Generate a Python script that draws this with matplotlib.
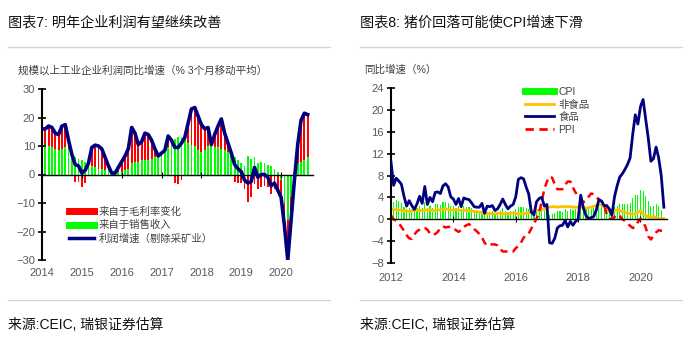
import numpy as np
import matplotlib
matplotlib.use('Agg')
import matplotlib.pyplot as plt
from matplotlib.lines import Line2D

plt.rcParams['font.family'] = ['Liberation Sans', 'Noto Sans CJK SC']

# ---- chart 7: industrial profit growth, 3m moving avg, Jan 2014 - Sep 2020
profit = [16, 16, 17, 16.5, 14.5, 14, 17, 17.5, 12, 7, 3.5, 3,
          0.5, 1.5, 4, 9.5, 10.3, 10, 9, 6, 3, 0.5, 0.5, 2.5,
          4.5, 6.5, 9, 16.5, 14.5, 10.5, 11.5, 14.5, 14, 12, 9, 6.5,
          7.5, 8.5, 13.5, 12, 9.5, 9.5, 11, 13, 18, 23, 23.5, 20.5,
          17.5, 16, 16.5, 10.5, 14, 17, 19.5, 14.5, 11, 7.5, 3.5, 2,
          1, -2, -3, -2.5, 2.5, -1, 0, 0, -1, -4, -3, -5.5,
          -8, -18, -30, -16, -2, 10.5, 19, 21.5, 21]
sales = [11, 10.5, 10, 9.5, 9, 8.5, 9, 9.5, 9, 6.5, 6, 5.5,
         5, 4.5, 3.5, 3, 2.5, 2, 2, 1.5, 1.5, 1, 1, 1,
         1, 1.5, 2, 4, 4.5, 4.5, 5, 5, 5, 5.5, 6, 6,
         6.5, 8, 9.5, 11, 12.5, 13, 13, 12.5, 11, 10.5, 10, 8.5,
         8, 8.5, 10, 10, 9.5, 9.5, 9, 8.5, 8, 7, 6, 5,
         4, 3, 6.5, 5.5, 6, 4, 4.5, 4, 3.5, 3, 2, 1,
         -2, -10, -16, -8, 1, 4, 4.5, 5, 6]
margin = [5, 5.5, 7, 7, 5.5, 5.5, 8, 8, 3, 0.5, -2.5, -2.5,
          -4.5, -3, 0.5, 6.5, 7.8, 8, 7, 4.5, 1.5, -0.5, -0.5, 1.5,
          3.5, 5, 7, 12.5, 10, 6, 6.5, 9.5, 9, 6.5, 3, 0.5,
          1, 0.5, 4, 1, -3, -3.5, -2, 0.5, 7, 12.5, 13.5, 12,
          9.5, 7.5, 6.5, 0.5, 4.5, 7.5, 10.5, 6, 3, 0.5, -2.5, -3,
          -3, -5, -9.5, -8, -3.5, -5, -4.5, -4, -4.5, -7, -5, -6.5,
          -6, -8, -14, -8, -3, 6.5, 14.5, 16.5, 15]
years7 = [2014, 2015, 2016, 2017, 2018, 2019, 2020]

# ---- chart 8: CPI / non-food / food / PPI yoy, Jan 2012 - Oct 2020
cpi = [4.5, 3.2, 3.6, 3.4, 3.0, 2.2, 1.8, 2.0, 1.9, 1.7, 2.0, 2.5,
       2.0, 3.2, 2.1, 2.4, 2.1, 2.7, 2.7, 2.6, 3.1, 3.2, 3.0, 2.5,
       2.5, 2.0, 2.4, 1.8, 2.5, 2.3, 2.3, 2.0, 1.6, 1.6, 1.4, 1.5,
       0.8, 1.4, 1.4, 1.5, 1.2, 1.4, 1.6, 2.0, 1.6, 1.3, 1.5, 1.6,
       1.8, 2.3, 2.3, 2.3, 2.0, 1.9, 1.8, 1.3, 1.9, 2.1, 2.3, 2.1,
       2.5, 0.8, 0.9, 1.2, 1.5, 1.5, 1.4, 1.8, 1.6, 1.9, 1.7, 1.8,
       1.5, 2.9, 2.1, 1.8, 1.8, 1.9, 2.1, 2.3, 2.5, 2.5, 2.2, 1.9,
       1.7, 1.5, 2.3, 2.5, 2.7, 2.7, 2.8, 2.8, 3.0, 3.8, 4.5, 4.5,
       5.4, 5.2, 4.3, 3.3, 2.4, 2.5, 2.7, 2.4, 1.7, 0.5]
nonfood = [1.8, 1.8, 1.7, 1.7, 1.7, 1.5, 1.5, 1.4, 1.5, 1.6, 1.6, 1.6,
           1.6, 1.7, 1.7, 1.7, 1.6, 1.6, 1.7, 1.7, 1.8, 1.9, 1.8, 1.7,
           1.7, 1.8, 1.7, 1.6, 1.7, 1.6, 1.6, 1.6, 1.4, 1.4, 1.3, 1.2,
           1.0, 1.0, 1.0, 1.0, 1.0, 1.1, 1.1, 1.0, 1.0, 1.0, 1.1, 1.1,
           1.1, 0.9, 1.0, 1.0, 1.1, 1.1, 1.3, 1.4, 1.6, 1.6, 1.8, 1.8,
           2.2, 2.2, 2.3, 2.3, 2.2, 2.3, 2.3, 2.3, 2.3, 2.3, 2.2, 2.2,
           2.2, 2.2, 2.2, 2.0, 2.1, 2.2, 2.4, 2.5, 2.6, 2.6, 2.3, 1.9,
           1.4, 1.2, 1.6, 1.7, 1.6, 1.4, 1.3, 1.1, 1.0, 0.9, 1.0, 1.3,
           1.6, 0.9, 0.7, 0.4, 0.4, 0.5, 0.3, 0.2, 0.1, 0.1]
food = [10.5, 6.2, 7.5, 7.0, 6.4, 4.2, 2.4, 3.4, 2.5, 1.8, 2.8, 4.2,
        2.9, 6.0, 2.7, 4.0, 3.2, 4.9, 5.0, 4.7, 6.1, 6.5, 5.9, 4.1,
        3.7, 2.7, 3.8, 2.3, 3.9, 3.7, 3.6, 3.0, 2.3, 2.2, 2.2, 2.9,
        1.1, 2.4, 2.3, 2.5, 1.6, 1.9, 2.7, 3.7, 2.7, 1.9, 2.4, 2.7,
        4.1, 7.3, 7.6, 7.4, 5.9, 4.6, 1.3, 0.8, 3.2, 3.8, 4.0, 2.4,
        2.7, -4.3, -4.4, -3.5, -1.6, -1.2, -1.1, -0.2, -1.4, -0.4, -1.1, -0.4,
        0.0, 4.4, 2.1, 0.7, 0.1, 0.3, 0.5, 1.7, 3.6, 3.3, 2.5, 2.5,
        1.9, 0.7, 4.1, 6.1, 7.7, 8.3, 9.1, 10.0, 11.2, 15.5, 19.1, 17.4,
        20.6, 21.9, 18.3, 14.8, 10.6, 11.1, 13.2, 11.2, 7.9, 2.2]
ppi = [0.7, 0.0, -0.3, -0.7, -1.4, -2.1, -2.9, -3.5, -3.6, -2.8, -2.2, -1.9,
       -1.6, -1.6, -1.9, -2.6, -2.9, -2.7, -2.3, -1.6, -1.3, -1.5, -1.4, -1.4,
       -1.6, -2.0, -2.3, -2.0, -1.4, -1.1, -0.9, -1.2, -1.8, -2.2, -2.7, -3.3,
       -4.3, -4.8, -4.6, -4.6, -4.6, -4.8, -5.4, -5.9, -5.9, -5.9, -5.9, -5.9,
       -5.3, -4.9, -4.3, -3.4, -2.8, -2.6, -1.7, -0.8, 0.1, 1.2, 3.3, 5.5,
       6.9, 7.8, 7.6, 6.4, 5.5, 5.5, 5.5, 6.3, 6.9, 6.9, 5.8, 4.9,
       4.3, 3.7, 3.1, 3.4, 4.1, 4.7, 4.6, 4.1, 3.6, 3.3, 2.7, 0.9,
       0.1, 0.1, 0.4, 0.9, 0.6, 0.0, -0.3, -0.8, -1.2, -1.6, -1.4, -0.5,
       0.1, -0.4, -1.5, -3.1, -3.7, -3.0, -2.4, -2.0, -2.1, -2.1]
years8 = [2012, 2014, 2016, 2018, 2020]

GRAY = '#595959'
W, H = 699, 344

fig = plt.figure(figsize=(W / 100, H / 100), dpi=100)


def fx(px):
    return px / W


def fy(py):
    return 1 - py / H


def style_axes(ax, xticks, xpad):
    ax.spines['top'].set_visible(False)
    ax.spines['right'].set_visible(False)
    ax.spines['left'].set_linewidth(1.5)
    ax.spines['bottom'].set_position(('data', 0))
    ax.spines['bottom'].set_linewidth(1.0)
    ax.set_xticks(xticks)
    ax.tick_params(axis='x', labelbottom=False, direction='inout', length=4, width=0.8)
    ax.tick_params(axis='y', direction='inout', length=6, width=1.2,
                   labelsize=8, labelcolor=GRAY, pad=2)
    sec = ax.secondary_xaxis('bottom')
    sec.spines['bottom'].set_visible(False)
    sec.set_xticks(xticks)
    sec.tick_params(length=0, labelsize=8, labelcolor=GRAY, pad=xpad)


# ---------------- left chart
ax1 = fig.add_axes([fx(42), fy(260), fx(313 - 42), fy(89) - fy(260)])
x7 = 2014 + np.arange(len(profit)) / 12
sales_a = np.array(sales)
margin_a = np.array(margin)
bottom_m = np.where(np.sign(margin_a) == np.sign(sales_a), sales_a, 0)
bw = 0.55 / 12
ax1.bar(x7, sales_a, width=bw, color='#00ff00', zorder=1)
ax1.bar(x7, margin_a, bottom=bottom_m, width=bw, color='#ff0000', zorder=1)
ax1.plot(x7, profit, color='#000080', lw=2.6, zorder=3, solid_joinstyle='round')
ax1.set_xlim(2014, 2020.8)
ax1.set_ylim(-30, 30)
ax1.set_yticks(np.arange(-30, 31, 10))
style_axes(ax1, years7, 6)

h7 = [Line2D([], [], color='#ff0000', lw=5),
      Line2D([], [], color='#00ff00', lw=5),
      Line2D([], [], color='#000080', lw=2.5)]
ax1.legend(h7, ['来自于毛利率变化', '来自于销售收入', '利润增速（剔除采矿业）'],
           loc='upper left', bbox_to_anchor=(0.085, 0.335), frameon=False,
           fontsize=7.5, handlelength=2.4, handletextpad=0.4, labelspacing=0.3,
           labelcolor='#404040', borderaxespad=0)

# ---------------- right chart
ax2 = fig.add_axes([fx(391), fy(263), fx(667 - 391), fy(88) - fy(263)])
x8 = 2012 + np.arange(len(cpi)) / 12
ax2.bar(x8, cpi, width=0.45 / 12, color='#00ff00', zorder=1, label='CPI')
ax2.plot(x8, nonfood, color='#ffc000', lw=2, zorder=2, label='非食品')
ax2.plot(x8, food, color='#000080', lw=2, zorder=3, label='食品')
ax2.plot(x8, ppi, color='#ff0000', lw=1.8, ls=(0, (3, 2)), zorder=2, label='PPI')
ax2.set_xlim(2012, 2020.85)
ax2.set_ylim(-8, 24)
ax2.set_yticks(np.arange(-8, 25, 4))
style_axes(ax2, years8, 7)

h8 = [Line2D([], [], color='#00ff00', lw=5),
      Line2D([], [], color='#ffc000', lw=2),
      Line2D([], [], color='#000080', lw=2),
      Line2D([], [], color='#ff0000', lw=2, ls=(0, (3, 2)))]
ax2.legend(h8, ['CPI', '非食品', '食品', 'PPI'], loc='upper left',
           bbox_to_anchor=(0.47, 1.03), frameon=False, fontsize=7.5,
           handlelength=2.8, handletextpad=0.4, labelspacing=0.25,
           labelcolor='#404040', borderaxespad=0)

# ---------------- titles, rules, sources
for x0, title, sub, xs in [(8, '图表7: 明年企业利润有望继续改善',
                            '规模以上工业企业利润同比增速（% 3个月移动平均）', 18),
                           (360, '图表8: 猪价回落可能使CPI增速下滑', '同比增速（%）', 364)]:
    fig.text(fx(x0), fy(22), title, fontsize=10.2, va='center', ha='left', color='#111111')
    fig.text(fx(xs), fy(70), sub, fontsize=7.6, va='center', ha='left', color='#404040')
    fig.text(fx(x0), fy(325), '来源:CEIC, 瑞银证券估算', fontsize=10, va='center',
             ha='left', color='#111111')
    for yy in (47, 300):
        fig.add_artist(Line2D([fx(x0), fx(x0 + 322)], [fy(yy), fy(yy)],
                              transform=fig.transFigure, color='#d4d4d4', lw=1))

fig.savefig('out.png', dpi=100)
